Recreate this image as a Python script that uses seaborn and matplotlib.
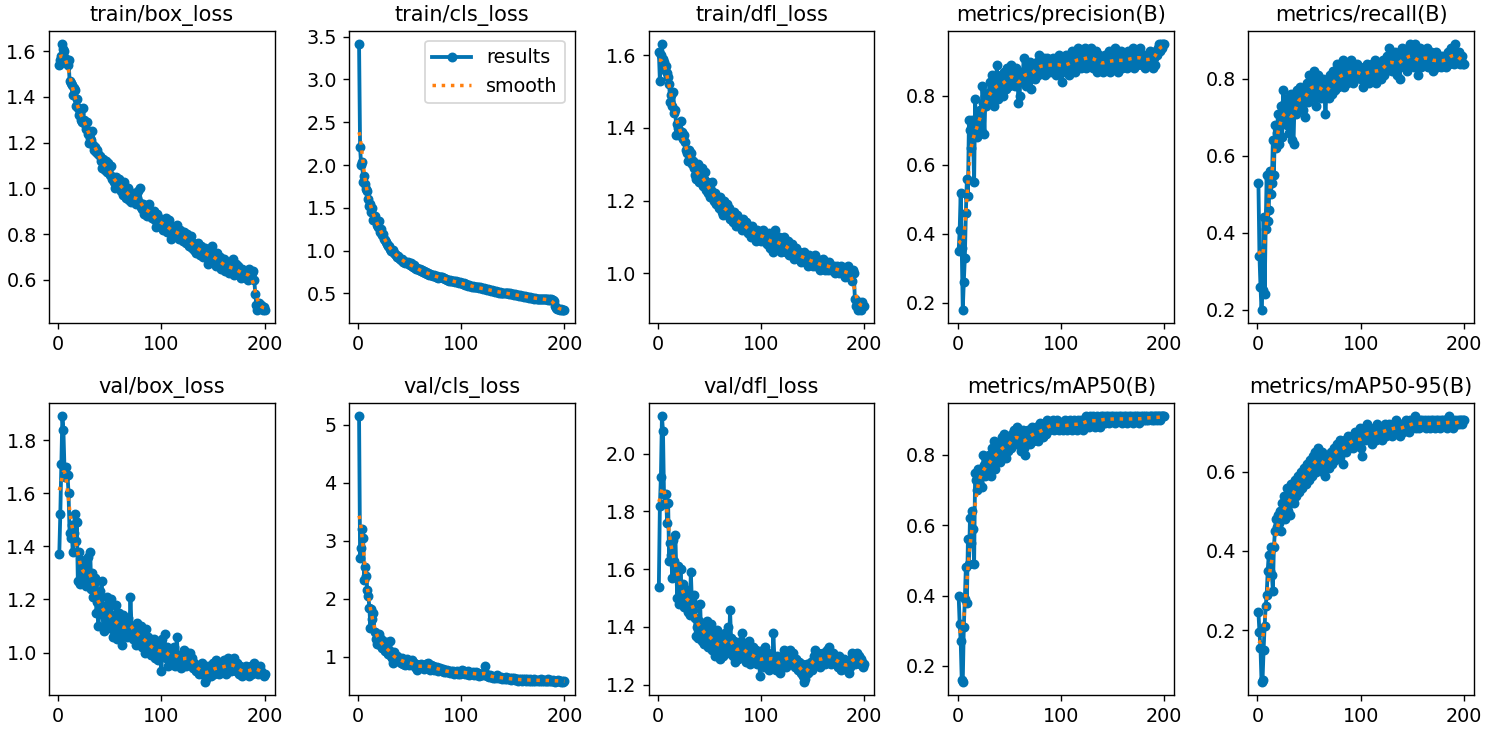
import numpy as np
import matplotlib
matplotlib.use("Agg")
import matplotlib.pyplot as plt
import seaborn as sns


# =========================================
# DATA (200 epochs)
# =========================================

epochs = list(range(1, 201))

titles = [
    "train/box_loss", "train/cls_loss", "train/dfl_loss",
    "metrics/precision(B)", "metrics/recall(B)",
    "val/box_loss", "val/cls_loss", "val/dfl_loss",
    "metrics/mAP50(B)", "metrics/mAP50-95(B)",
]

train_box_loss = [
    1.54, 1.56, 1.58, 1.63, 1.61, 1.60, 1.57, 1.55, 1.54, 1.56, 1.47, 1.46, 1.45, 1.41, 1.44, 1.43, 1.36, 1.39, 1.35, 1.32,
    1.33, 1.30, 1.29, 1.35, 1.30, 1.28, 1.26, 1.29, 1.24, 1.20, 1.22, 1.21, 1.25, 1.19, 1.17, 1.18, 1.16, 1.17, 1.15, 1.14,
    1.12, 1.09, 1.13, 1.10, 1.08, 1.12, 1.07, 1.11, 1.09, 1.06, 1.10, 1.04, 1.05, 1.03, 1.00, 1.05, 1.02, 1.03, 1.04, 1.01,
    0.99, 1.02, 0.97, 1.03, 0.98, 0.96, 0.99, 1.00, 0.95, 0.97, 0.94, 0.96, 0.98, 0.95, 0.93, 0.96, 0.99, 0.94, 1.00, 0.92,
    0.91, 0.93, 0.89, 0.90, 0.92, 0.88, 0.91, 0.93, 0.89, 0.90, 0.87, 0.88, 0.90, 0.86, 0.83, 0.89, 0.85, 0.87, 0.84, 0.86,
    0.85, 0.82, 0.84, 0.87, 0.81, 0.83, 0.86, 0.84, 0.78, 0.82, 0.80, 0.83, 0.79, 0.81, 0.84, 0.80, 0.78, 0.82, 0.79, 0.80,
    0.77, 0.81, 0.79, 0.76, 0.80, 0.78, 0.75, 0.77, 0.79, 0.74, 0.76, 0.73, 0.75, 0.72, 0.76, 0.74, 0.71, 0.75, 0.73, 0.70,
    0.72, 0.74, 0.71, 0.73, 0.67, 0.70, 0.72, 0.69, 0.75, 0.71, 0.68, 0.70, 0.66, 0.72, 0.69, 0.67, 0.70, 0.65, 0.68, 0.66,
    0.69, 0.64, 0.67, 0.65, 0.68, 0.63, 0.66, 0.64, 0.69, 0.62, 0.65, 0.67, 0.63, 0.66, 0.62, 0.64, 0.61, 0.65, 0.63, 0.62,
    0.64, 0.61, 0.63, 0.60, 0.65, 0.62, 0.61, 0.63, 0.64, 0.60, 0.54, 0.49, 0.47, 0.48, 0.50, 0.48, 0.49, 0.47, 0.48, 0.47,
]

train_cls_loss = [
    3.41, 2.21, 2.00, 2.04, 1.80, 1.87, 1.78, 1.72, 1.70, 1.60, 1.52, 1.55, 1.45, 1.50, 1.36, 1.40, 1.35, 1.30, 1.28, 1.35,
    1.22, 1.25, 1.18, 1.20, 1.14, 1.12, 1.10, 1.08, 1.05, 1.06, 1.02, 1.00, 0.99, 1.01, 0.97, 0.96, 0.95, 0.93, 0.94, 0.91,
    0.90, 0.89, 0.90, 0.87, 0.88, 0.86, 0.85, 0.87, 0.84, 0.83, 0.85, 0.82, 0.81, 0.83, 0.80, 0.79, 0.80, 0.78, 0.77, 0.78,
    0.76, 0.77, 0.75, 0.76, 0.74, 0.75, 0.73, 0.74, 0.72, 0.73, 0.71, 0.72, 0.70, 0.71, 0.70, 0.69, 0.70, 0.68, 0.69, 0.69,
    0.69, 0.68, 0.68, 0.67, 0.67, 0.66, 0.66, 0.65, 0.66, 0.65, 0.64, 0.65, 0.64, 0.63, 0.64, 0.63, 0.63, 0.62, 0.63, 0.62,
    0.62, 0.61, 0.62, 0.60, 0.61, 0.60, 0.59, 0.60, 0.59, 0.58, 0.59, 0.58, 0.57, 0.58, 0.57, 0.57, 0.56, 0.57, 0.56, 0.56,
    0.55, 0.56, 0.55, 0.55, 0.54, 0.55, 0.54, 0.54, 0.53, 0.54, 0.53, 0.53, 0.52, 0.53, 0.52, 0.52, 0.51, 0.52, 0.51, 0.51,
    0.51, 0.50, 0.51, 0.50, 0.50, 0.49, 0.50, 0.49, 0.49, 0.49, 0.48, 0.49, 0.48, 0.48, 0.48, 0.47, 0.48, 0.47, 0.47, 0.47,
    0.46, 0.47, 0.46, 0.46, 0.46, 0.45, 0.46, 0.45, 0.45, 0.45, 0.44, 0.45, 0.44, 0.44, 0.44, 0.44, 0.43, 0.44, 0.43, 0.43,
    0.43, 0.44, 0.43, 0.42, 0.43, 0.42, 0.43, 0.42, 0.42, 0.41, 0.35, 0.33, 0.32, 0.32, 0.32, 0.31, 0.32, 0.31, 0.31, 0.31,
]

train_dfl_loss = [
    1.61, 1.53, 1.60, 1.63, 1.59, 1.58, 1.56, 1.57, 1.55, 1.54, 1.52, 1.47, 1.49, 1.46, 1.50, 1.44, 1.45, 1.38, 1.41, 1.40,
    1.38, 1.42, 1.39, 1.37, 1.38, 1.36, 1.34, 1.33, 1.31, 1.34, 1.32, 1.33, 1.30, 1.31, 1.29, 1.27, 1.26, 1.28, 1.30, 1.25,
    1.27, 1.26, 1.29, 1.24, 1.26, 1.28, 1.23, 1.25, 1.22, 1.24, 1.21, 1.23, 1.25, 1.20, 1.22, 1.19, 1.21, 1.20, 1.18, 1.21,
    1.19, 1.17, 1.16, 1.20, 1.18, 1.17, 1.19, 1.16, 1.18, 1.15, 1.17, 1.16, 1.14, 1.17, 1.15, 1.13, 1.16, 1.14, 1.13, 1.15,
    1.14, 1.12, 1.15, 1.13, 1.14, 1.12, 1.11, 1.13, 1.12, 1.10, 1.13, 1.11, 1.12, 1.10, 1.09, 1.12, 1.11, 1.10, 1.11, 1.09,
    1.10, 1.12, 1.09, 1.11, 1.10, 1.08, 1.09, 1.11, 1.07, 1.09, 1.10, 1.06, 1.08, 1.12, 1.09, 1.07, 1.10, 1.08, 1.06, 1.09,
    1.07, 1.10, 1.08, 1.06, 1.07, 1.09, 1.05, 1.07, 1.06, 1.08, 1.05, 1.04, 1.06, 1.07, 1.05, 1.04, 1.06, 1.05, 1.03, 1.05,
    1.04, 1.06, 1.03, 1.05, 1.04, 1.02, 1.05, 1.03, 1.04, 1.02, 1.03, 1.05, 1.02, 1.04, 1.03, 1.02, 1.01, 1.03, 1.02, 1.04,
    1.02, 1.01, 1.03, 1.02, 1.01, 1.03, 1.02, 1.01, 1.02, 1.01, 1.02, 1.00, 1.01, 1.02, 1.01, 1.00, 1.01, 1.02, 1.00, 1.01,
    0.99, 1.01, 1.00, 1.02, 0.99, 1.01, 1.00, 0.98, 1.01, 1.00, 0.93, 0.91, 0.92, 0.90, 0.92, 0.91, 0.90, 0.92, 0.91, 0.91,
]

precision = [
    0.35, 0.41, 0.52, 0.36, 0.18, 0.26, 0.33, 0.46, 0.56, 0.51, 0.73, 0.70, 0.65, 0.73, 0.68, 0.55, 0.79, 0.70, 0.68, 0.74,
    0.72, 0.76, 0.70, 0.83, 0.78, 0.69, 0.80, 0.77, 0.81, 0.79, 0.84, 0.78, 0.86, 0.80, 0.77, 0.85, 0.82, 0.89, 0.79, 0.84,
    0.81, 0.86, 0.83, 0.80, 0.87, 0.84, 0.82, 0.88, 0.85, 0.83, 0.86, 0.89, 0.84, 0.87, 0.85, 0.83, 0.88, 0.86, 0.78, 0.80,
    0.85, 0.87, 0.84, 0.91, 0.86, 0.83, 0.88, 0.85, 0.87, 0.90, 0.82, 0.86, 0.89, 0.87, 0.85, 0.88, 0.90, 0.86, 0.92, 0.88,
    0.87, 0.90, 0.88, 0.91, 0.86, 0.89, 0.91, 0.88, 0.90, 0.87, 0.89, 0.91, 0.88, 0.90, 0.86, 0.91, 0.89, 0.92, 0.88, 0.90,
    0.84, 0.89, 0.91, 0.87, 0.92, 0.88, 0.90, 0.86, 0.91, 0.89, 0.93, 0.88, 0.91, 0.87, 0.92, 0.90, 0.94, 0.89, 0.91, 0.88,
    0.92, 0.90, 0.94, 0.88, 0.91, 0.93, 0.89, 0.92, 0.94, 0.90, 0.88, 0.92, 0.91, 0.93, 0.87, 0.90, 0.92, 0.88, 0.91, 0.89,
    0.87, 0.90, 0.92, 0.88, 0.91, 0.89, 0.93, 0.87, 0.90, 0.92, 0.88, 0.91, 0.94, 0.89, 0.87, 0.92, 0.90, 0.93, 0.88, 0.91,
    0.89, 0.92, 0.90, 0.88, 0.93, 0.91, 0.89, 0.92, 0.90, 0.94, 0.88, 0.91, 0.93, 0.89, 0.92, 0.90, 0.94, 0.91, 0.89, 0.92,
    0.90, 0.88, 0.92, 0.91, 0.89, 0.93, 0.90, 0.92, 0.88, 0.91, 0.89, 0.93, 0.92, 0.94, 0.95, 0.93, 0.95, 0.94, 0.95, 0.95,
]

recall = [
    0.53, 0.34, 0.26, 0.20, 0.25, 0.44, 0.24, 0.41, 0.55, 0.43, 0.46, 0.56, 0.50, 0.53, 0.64, 0.55, 0.68, 0.62, 0.66, 0.71,
    0.63, 0.68, 0.73, 0.65, 0.77, 0.70, 0.74, 0.71, 0.68, 0.75, 0.66, 0.72, 0.76, 0.64, 0.63, 0.74, 0.71, 0.77, 0.73, 0.76,
    0.78, 0.74, 0.76, 0.72, 0.77, 0.70, 0.75, 0.79, 0.74, 0.81, 0.77, 0.75, 0.80, 0.78, 0.82, 0.76, 0.73, 0.79, 0.81, 0.77,
    0.79, 0.75, 0.78, 0.80, 0.76, 0.71, 0.77, 0.79, 0.75, 0.81, 0.78, 0.76, 0.82, 0.79, 0.77, 0.80, 0.84, 0.78, 0.81, 0.79,
    0.82, 0.80, 0.85, 0.78, 0.81, 0.83, 0.79, 0.84, 0.80, 0.82, 0.85, 0.81, 0.79, 0.83, 0.80, 0.82, 0.84, 0.81, 0.83, 0.80,
    0.82, 0.78, 0.81, 0.83, 0.80, 0.84, 0.82, 0.79, 0.83, 0.81, 0.84, 0.80, 0.82, 0.85, 0.79, 0.83, 0.81, 0.84, 0.82, 0.80,
    0.83, 0.85, 0.81, 0.84, 0.82, 0.86, 0.83, 0.88, 0.84, 0.82, 0.85, 0.83, 0.87, 0.84, 0.81, 0.86, 0.84, 0.80, 0.85, 0.88,
    0.86, 0.83, 0.87, 0.85, 0.82, 0.88, 0.86, 0.89, 0.84, 0.87, 0.85, 0.83, 0.89, 0.86, 0.84, 0.81, 0.85, 0.88, 0.83, 0.86,
    0.84, 0.87, 0.85, 0.88, 0.83, 0.86, 0.84, 0.87, 0.85, 0.82, 0.86, 0.84, 0.87, 0.83, 0.85, 0.86, 0.84, 0.83, 0.86, 0.85,
    0.84, 0.86, 0.83, 0.85, 0.87, 0.84, 0.86, 0.88, 0.85, 0.87, 0.84, 0.89, 0.86, 0.85, 0.87, 0.84, 0.85, 0.86, 0.84, 0.84,
]

val_box_loss = [
    1.37, 1.52, 1.71, 1.89, 1.84, 1.70, 1.66, 1.70, 1.67, 1.60, 1.45, 1.43, 1.48, 1.38, 1.45, 1.52, 1.42, 1.49, 1.27, 1.38,
    1.26, 1.35, 1.28, 1.31, 1.27, 1.33, 1.25, 1.30, 1.36, 1.29, 1.38, 1.24, 1.30, 1.21, 1.26, 1.28, 1.15, 1.19, 1.10, 1.23,
    1.18, 1.27, 1.14, 1.08, 1.16, 1.12, 1.21, 1.10, 1.17, 1.13, 1.20, 1.09, 1.06, 1.14, 1.12, 1.18, 1.05, 1.10, 1.15, 1.08,
    1.12, 1.03, 1.14, 1.09, 1.07, 1.11, 1.06, 1.13, 1.08, 1.21, 1.10, 1.05, 1.09, 1.07, 1.03, 1.11, 1.08, 1.04, 1.06, 1.10,
    1.02, 1.07, 1.05, 1.00, 1.09, 1.03, 1.06, 1.01, 1.04, 0.99, 1.03, 1.00, 1.05, 0.98, 1.02, 1.04, 0.97, 1.01, 1.03, 0.93,
    1.05, 1.00, 1.07, 0.98, 1.02, 0.95, 0.99, 1.01, 0.96, 1.00, 0.97, 1.02, 0.95, 0.99, 1.06, 0.97, 0.95, 0.99, 0.94, 0.98,
    0.96, 1.01, 0.99, 0.95, 0.98, 1.00, 0.97, 1.00, 0.96, 0.98, 0.94, 0.96, 0.95, 0.93, 0.95, 0.92, 0.94, 0.93, 0.96, 0.92,
    0.94, 0.89, 0.90, 0.93, 0.95, 0.92, 0.94, 0.91, 0.93, 0.96, 0.92, 0.94, 0.97, 0.93, 0.95, 0.92, 0.94, 0.96, 0.93, 0.95,
    0.97, 0.94, 0.92, 0.96, 0.98, 0.95, 0.93, 0.97, 0.94, 0.98, 0.95, 0.93, 0.96, 0.94, 0.92, 0.95, 0.93, 0.91, 0.94, 0.92,
    0.93, 0.95, 0.92, 0.94, 0.91, 0.93, 0.95, 0.92, 0.94, 0.96, 0.95, 0.93, 0.94, 0.92, 0.93, 0.95, 0.93, 0.92, 0.91, 0.92,
]

val_cls_loss = [
    5.15, 2.70, 2.88, 3.20, 3.05, 2.33, 2.55, 2.40, 2.15, 2.05, 1.85, 1.50, 1.82, 1.65, 1.75, 1.42, 1.30, 1.22, 1.35, 1.40,
    1.20, 1.30, 1.15, 1.28, 1.18, 1.10, 1.25, 1.08, 1.05, 1.12, 1.28, 1.02, 0.98, 0.90, 1.08, 1.00, 0.95, 1.02, 0.92, 0.98,
    0.95, 0.90, 0.98, 0.88, 0.93, 0.86, 0.96, 0.90, 0.85, 0.92, 0.88, 0.94, 0.86, 0.90, 0.83, 0.87, 0.78, 0.84, 0.80, 0.86,
    0.88, 0.82, 0.85, 0.79, 0.84, 0.87, 0.81, 0.90, 0.83, 0.78, 0.86, 0.80, 0.84, 0.77, 0.82, 0.79, 0.83, 0.76, 0.80, 0.78,
    0.75, 0.79, 0.74, 0.78, 0.73, 0.77, 0.74, 0.76, 0.72, 0.75, 0.73, 0.76, 0.71, 0.74, 0.72, 0.75, 0.70, 0.73, 0.71, 0.74,
    0.78, 0.72, 0.75, 0.70, 0.73, 0.71, 0.76, 0.69, 0.72, 0.70, 0.74, 0.68, 0.71, 0.73, 0.69, 0.72, 0.67, 0.70, 0.68, 0.71,
    0.69, 0.72, 0.84, 0.70, 0.67, 0.69, 0.66, 0.68, 0.65, 0.67, 0.64, 0.66, 0.63, 0.65, 0.68, 0.64, 0.66, 0.63, 0.65, 0.62,
    0.64, 0.62, 0.65, 0.61, 0.63, 0.62, 0.64, 0.60, 0.63, 0.61, 0.64, 0.60, 0.62, 0.61, 0.59, 0.62, 0.60, 0.61, 0.59, 0.62,
    0.60, 0.61, 0.59, 0.62, 0.60, 0.58, 0.61, 0.59, 0.60, 0.58, 0.61, 0.59, 0.60, 0.58, 0.60, 0.59, 0.61, 0.58, 0.60, 0.59,
    0.60, 0.58, 0.59, 0.61, 0.58, 0.60, 0.59, 0.58, 0.60, 0.59, 0.57, 0.59, 0.58, 0.60, 0.58, 0.59, 0.57, 0.58, 0.57, 0.58,
]

val_dfl_loss = [
    1.54, 1.82, 1.92, 2.13, 2.08, 1.86, 1.83, 1.86, 1.76, 1.83, 1.63, 1.69, 1.65, 1.57, 1.70, 1.63, 1.72, 1.58, 1.50, 1.61,
    1.48, 1.60, 1.52, 1.55, 1.47, 1.53, 1.50, 1.48, 1.45, 1.51, 1.44, 1.59, 1.49, 1.46, 1.51, 1.43, 1.37, 1.40, 1.36, 1.42,
    1.48, 1.38, 1.35, 1.41, 1.34, 1.39, 1.36, 1.42, 1.33, 1.38, 1.35, 1.41, 1.32, 1.37, 1.30, 1.35, 1.39, 1.31, 1.36, 1.29,
    1.33, 1.37, 1.30, 1.35, 1.38, 1.32, 1.34, 1.40, 1.31, 1.46, 1.36, 1.33, 1.30, 1.35, 1.28, 1.32, 1.34, 1.29, 1.33, 1.31,
    1.35, 1.38, 1.30, 1.33, 1.28, 1.32, 1.30, 1.35, 1.27, 1.31, 1.29, 1.33, 1.28, 1.30, 1.32, 1.27, 1.29, 1.31, 1.23, 1.30,
    1.28, 1.32, 1.26, 1.33, 1.29, 1.27, 1.31, 1.25, 1.30, 1.28, 1.26, 1.38, 1.29, 1.27, 1.25, 1.30, 1.28, 1.24, 1.26, 1.29,
    1.27, 1.32, 1.29, 1.26, 1.31, 1.28, 1.30, 1.32, 1.27, 1.29, 1.31, 1.28, 1.26, 1.29, 1.27, 1.25, 1.28, 1.26, 1.24, 1.27,
    1.23, 1.21, 1.22, 1.25, 1.27, 1.24, 1.26, 1.28, 1.25, 1.27, 1.30, 1.32, 1.29, 1.27, 1.31, 1.28, 1.26, 1.30, 1.28, 1.31,
    1.29, 1.27, 1.30, 1.32, 1.28, 1.33, 1.30, 1.27, 1.29, 1.31, 1.28, 1.30, 1.27, 1.29, 1.26, 1.30, 1.28, 1.25, 1.27, 1.29,
    1.26, 1.28, 1.25, 1.27, 1.24, 1.26, 1.29, 1.31, 1.28, 1.30, 1.27, 1.29, 1.31, 1.28, 1.30, 1.27, 1.29, 1.28, 1.26, 1.27,
]

map50 = [
    0.40, 0.32, 0.27, 0.16, 0.155, 0.31, 0.39, 0.48, 0.38, 0.56, 0.49, 0.62, 0.55, 0.64, 0.59, 0.49, 0.75, 0.73, 0.70, 0.76,
    0.72, 0.74, 0.76, 0.71, 0.80, 0.77, 0.74, 0.79, 0.75, 0.80, 0.77, 0.74, 0.82, 0.78, 0.84, 0.76, 0.81, 0.79, 0.83, 0.80,
    0.78, 0.82, 0.85, 0.80, 0.86, 0.82, 0.79, 0.84, 0.81, 0.83, 0.85, 0.82, 0.86, 0.84, 0.87, 0.85, 0.83, 0.88, 0.86, 0.84,
    0.81, 0.85, 0.87, 0.82, 0.80, 0.86, 0.84, 0.87, 0.85, 0.83, 0.86, 0.88, 0.84, 0.87, 0.85, 0.88, 0.86, 0.84, 0.87, 0.89,
    0.86, 0.88, 0.85, 0.87, 0.89, 0.86, 0.90, 0.88, 0.87, 0.89, 0.88, 0.90, 0.87, 0.89, 0.88, 0.90, 0.89, 0.87, 0.89, 0.88,
    0.89, 0.87, 0.88, 0.90, 0.88, 0.87, 0.89, 0.88, 0.90, 0.89, 0.87, 0.89, 0.90, 0.88, 0.89, 0.87, 0.90, 0.89, 0.88, 0.90,
    0.89, 0.87, 0.90, 0.91, 0.89, 0.90, 0.88, 0.91, 0.90, 0.89, 0.91, 0.90, 0.88, 0.90, 0.91, 0.89, 0.90, 0.88, 0.91, 0.90,
    0.91, 0.90, 0.89, 0.91, 0.90, 0.91, 0.89, 0.90, 0.91, 0.90, 0.91, 0.90, 0.89, 0.91, 0.90, 0.91, 0.90, 0.91, 0.89, 0.90,
    0.91, 0.90, 0.91, 0.89, 0.90, 0.91, 0.90, 0.91, 0.90, 0.89, 0.91, 0.90, 0.91, 0.90, 0.91, 0.89, 0.90, 0.91, 0.90, 0.91,
    0.90, 0.91, 0.90, 0.91, 0.90, 0.91, 0.91, 0.90, 0.91, 0.90, 0.91, 0.91, 0.90, 0.91, 0.91, 0.90, 0.91, 0.91, 0.91, 0.91,
]

map50_95 = [
    0.245, 0.195, 0.155, 0.07, 0.075, 0.15, 0.21, 0.26, 0.29, 0.35, 0.39, 0.35, 0.41, 0.34, 0.30, 0.41, 0.45, 0.48, 0.46, 0.49,
    0.47, 0.50, 0.45, 0.52, 0.49, 0.54, 0.48, 0.51, 0.56, 0.50, 0.53, 0.49, 0.57, 0.55, 0.52, 0.58, 0.54, 0.56, 0.59, 0.55,
    0.57, 0.60, 0.56, 0.58, 0.61, 0.59, 0.57, 0.62, 0.60, 0.58, 0.63, 0.61, 0.59, 0.64, 0.62, 0.65, 0.60, 0.63, 0.66, 0.62,
    0.64, 0.61, 0.65, 0.60, 0.63, 0.59, 0.62, 0.64, 0.61, 0.63, 0.65, 0.62, 0.64, 0.66, 0.63, 0.65, 0.67, 0.64, 0.66, 0.68,
    0.65, 0.67, 0.62, 0.66, 0.68, 0.65, 0.67, 0.69, 0.66, 0.68, 0.67, 0.69, 0.66, 0.68, 0.70, 0.67, 0.69, 0.68, 0.71, 0.66,
    0.64, 0.69, 0.71, 0.68, 0.70, 0.72, 0.69, 0.71, 0.68, 0.70, 0.67, 0.69, 0.71, 0.70, 0.68, 0.72, 0.70, 0.69, 0.71, 0.70,
    0.68, 0.71, 0.70, 0.72, 0.69, 0.71, 0.70, 0.72, 0.71, 0.69, 0.72, 0.70, 0.71, 0.73, 0.70, 0.72, 0.71, 0.69, 0.72, 0.71,
    0.70, 0.72, 0.71, 0.73, 0.71, 0.72, 0.70, 0.73, 0.72, 0.71, 0.73, 0.72, 0.74, 0.71, 0.73, 0.72, 0.71, 0.73, 0.72, 0.73,
    0.72, 0.73, 0.71, 0.72, 0.73, 0.72, 0.71, 0.73, 0.72, 0.73, 0.72, 0.71, 0.73, 0.72, 0.73, 0.72, 0.71, 0.73, 0.72, 0.73,
    0.72, 0.73, 0.72, 0.71, 0.73, 0.74, 0.72, 0.73, 0.72, 0.71, 0.72, 0.73, 0.72, 0.73, 0.72, 0.73, 0.73, 0.72, 0.73, 0.73,
]

series = [
    train_box_loss, train_cls_loss, train_dfl_loss, precision, recall,
    val_box_loss, val_cls_loss, val_dfl_loss, map50, map50_95,
]


# =========================================
# SMOOTHING (gaussian, sigma=3, reflect edges)
# =========================================

def gaussian_smooth(y, sigma=3.0):
    y = np.asarray(y, dtype=float)
    radius = int(4 * sigma + 0.5)
    k = np.arange(-radius, radius + 1)
    kernel = np.exp(-0.5 * (k / sigma) ** 2)
    kernel /= kernel.sum()
    padded = np.pad(y, radius, mode="symmetric")
    return np.convolve(padded, kernel, mode="valid")


# =========================================
# PLOT
# =========================================

plt.rcParams["font.size"] = 11

blue = "#0173b2"
orange = "#ff7f0e"

W, H = 1507, 731
fig, axes = plt.subplots(2, 5, figsize=(W / 125, H / 125), dpi=125)
fig.subplots_adjust(
    left=49 / W, right=1474 / W,
    top=1 - 31 / H, bottom=1 - 695 / H,
    wspace=74 / 226, hspace=80 / 292,
)
axes = axes.ravel()

for ax, y, title in zip(axes, series, titles):
    sns.lineplot(
        x=epochs, y=y, ax=ax, color=blue, linewidth=2.2,
        marker=".", markersize=9, markeredgecolor=blue,
        markeredgewidth=1.2, label="results", legend=False,
    )
    sns.lineplot(
        x=epochs, y=gaussian_smooth(y), ax=ax, color=orange,
        linewidth=2, linestyle=":", label="smooth", legend=False,
    )
    ax.set_title(title, fontsize=12)
    ax.set_xlabel("")
    ax.set_ylabel("")

axes[1].legend()

fig.savefig("out.png", dpi=125)
